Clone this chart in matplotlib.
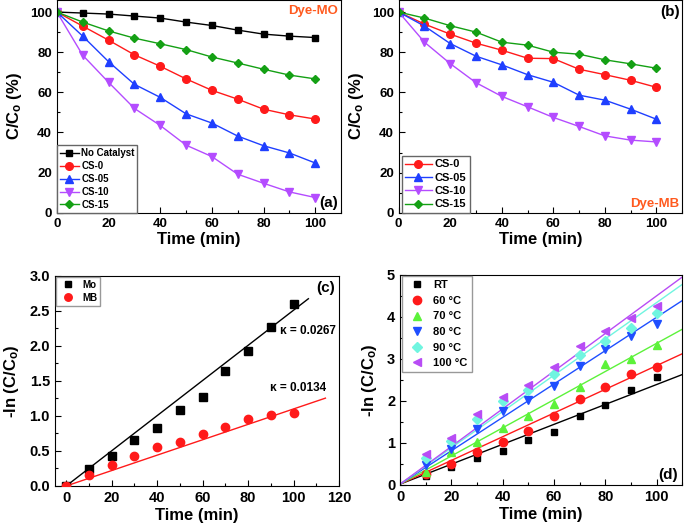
import numpy as np
import matplotlib
matplotlib.use('Agg')
import matplotlib.pyplot as plt
from matplotlib import font_manager as fm
from matplotlib.ticker import MultipleLocator

names = {f.name for f in fm.fontManager.ttflist}
fam = 'Liberation Sans Narrow' if 'Liberation Sans Narrow' in names else 'Liberation Sans'
plt.rcParams['font.family'] = [fam, 'DejaVu Sans']
plt.rcParams['font.weight'] = 'bold'
plt.rcParams['mathtext.fontset'] = 'custom'
plt.rcParams['mathtext.rm'] = fam + ':bold'
plt.rcParams['mathtext.bf'] = fam + ':bold'
plt.rcParams['mathtext.default'] = 'bf'

# time axis (min)
t = [0, 10, 20, 30, 40, 50, 60, 70, 80, 90, 100]
t10 = t[1:]

# (a) Dye-MO, C/Co (%)
mo_none = [100, 99.5, 99, 98, 97, 95, 93.3, 91, 89, 88, 87.3]
mo_cs0 = [100, 93, 86, 78.7, 73, 66.7, 61, 56.6, 51.6, 48.8, 46.7]
mo_cs05 = [100, 88, 75.3, 64, 57.5, 49.3, 44.7, 38.2, 33.4, 29.8, 24.8]
mo_cs10 = [100, 78.5, 65, 52, 43.5, 33.7, 28, 19.2, 14.7, 10.4, 7.6]
mo_cs15 = [100, 95, 90.6, 87, 84.2, 81.3, 77.6, 74.6, 71.5, 68.6, 66.7]

# (b) Dye-MB, C/Co (%)
mb_cs0 = [100, 94, 89, 84.5, 81, 77, 76.8, 71.5, 68.8, 66, 62.5]
mb_cs05 = [100, 93, 84.3, 78, 73.7, 68.8, 65, 58.6, 56.1, 51.6, 46.6]
mb_cs10 = [100, 85, 74.3, 64.8, 58, 52.8, 47.5, 43, 38.3, 36.2, 35.3]
mb_cs15 = [100, 97, 93.2, 90, 85, 83.5, 80, 79, 76.2, 74.2, 72]

# (c) kinetics -ln(C/Co)
kin_mo = [0, 0.24, 0.43, 0.65, 0.83, 1.09, 1.27, 1.64, 1.92, 2.27, 2.6]
kin_mb = [0, 0.16, 0.30, 0.43, 0.55, 0.635, 0.74, 0.845, 0.955, 1.01, 1.045]
fit_mo = (0.0251, 106.5)   # slope, x end
fit_mb = (0.0110, 114.0)

# (d) temperature series, -ln(C/Co)
temp_labels = ['RT', '60 °C', '70 °C', '80 °C', '90 °C', '100 °C']
temp_data = [
    [0.22, 0.42, 0.63, 0.82, 1.08, 1.27, 1.64, 1.91, 2.26, 2.57],
    [0.25, 0.50, 0.79, 1.03, 1.29, 1.65, 2.04, 2.33, 2.63, 2.80],
    [0.30, 0.78, 1.03, 1.35, 1.65, 1.92, 2.34, 2.87, 3.00, 3.33],
    [0.48, 0.86, 1.32, 1.76, 2.01, 2.36, 2.84, 3.23, 3.54, 3.83],
    [0.63, 1.05, 1.57, 2.00, 2.26, 2.63, 3.09, 3.42, 3.74, 4.09],
    [0.73, 1.12, 1.68, 2.10, 2.38, 2.80, 3.30, 3.67, 3.97, 4.26],
]
temp_slopes = [0.0237, 0.0282, 0.0335, 0.0397, 0.0432, 0.0448]

c_blk, c_red, c_blu, c_vio, c_grn = 'black', '#ff1a1a', '#1f3fff', '#b44cff', '#14a014'
dye_col = '#ff5a1f'

fig = plt.figure(figsize=(6.85, 5.32), dpi=100)
ax_a = fig.add_axes([0.083, 0.600, 0.415, 0.400])
ax_b = fig.add_axes([0.582, 0.600, 0.414, 0.400])
ax_c = fig.add_axes([0.080, 0.0865, 0.415, 0.395])
ax_d = fig.add_axes([0.584, 0.0884, 0.412, 0.395])


def style(ax, fs):
    ax.tick_params(which='both', direction='in', top=False, right=False, labelsize=fs)
    ax.tick_params(which='major', length=4, width=0.8)
    ax.tick_params(which='minor', length=2, width=0.8)
    for s in ax.spines.values():
        s.set_linewidth(0.8)
    for lab in ax.get_xticklabels() + ax.get_yticklabels():
        lab.set_fontweight('bold')


# (a)
ax_a.plot(t, mo_none, '-s', color=c_blk, ms=5, lw=1, label='No Catalyst')
ax_a.plot(t, mo_cs0, '-o', color=c_red, ms=5.5, lw=1, label='CS-0')
ax_a.plot(t, mo_cs05, '-^', color=c_blu, ms=5.5, lw=1, label='CS-05')
ax_a.plot(t, mo_cs10, '-v', color=c_vio, ms=5.5, lw=1, label='CS-10')
ax_a.plot(t, mo_cs15, '-D', color=c_grn, ms=4.5, lw=1, label='CS-15')
ax_a.set_xlim(0, 110)
ax_a.set_ylim(0, 106)
ax_a.xaxis.set_major_locator(MultipleLocator(20))
ax_a.xaxis.set_minor_locator(MultipleLocator(10))
ax_a.yaxis.set_major_locator(MultipleLocator(20))
ax_a.yaxis.set_minor_locator(MultipleLocator(10))
ax_a.set_xlabel('Time (min)', fontsize=12, fontweight='bold', labelpad=2)
ax_a.set_ylabel(r'C/C$_\mathbf{o}$ (%)', fontsize=12, fontweight='bold', labelpad=4)
ax_a.legend(loc='lower left', fontsize=7, borderaxespad=0, handlelength=2.0,
            handletextpad=0.2, labelspacing=0.3, fancybox=False, edgecolor='0.4',
            framealpha=1, borderpad=0.3)
ax_a.text(0.99, 0.975, 'Dye-MO', transform=ax_a.transAxes, ha='right', va='top',
          color=dye_col, fontsize=9.5, fontweight='bold')
ax_a.text(0.99, 0.015, '(a)', transform=ax_a.transAxes, ha='right', va='bottom',
          fontsize=11, fontweight='bold')
style(ax_a, 9.5)

# (b)
ax_b.plot(t, mb_cs0, '-o', color=c_red, ms=5.5, lw=1, label='CS-0')
ax_b.plot(t, mb_cs05, '-^', color=c_blu, ms=5.5, lw=1, label='CS-05')
ax_b.plot(t, mb_cs10, '-v', color=c_vio, ms=5.5, lw=1, label='CS-10')
ax_b.plot(t, mb_cs15, '-D', color=c_grn, ms=4.5, lw=1, label='CS-15')
ax_b.set_xlim(0, 110)
ax_b.set_ylim(0, 106)
ax_b.xaxis.set_major_locator(MultipleLocator(20))
ax_b.xaxis.set_minor_locator(MultipleLocator(10))
ax_b.yaxis.set_major_locator(MultipleLocator(20))
ax_b.yaxis.set_minor_locator(MultipleLocator(10))
ax_b.set_xlabel('Time (min)', fontsize=12, fontweight='bold', labelpad=2)
ax_b.set_ylabel(r'C/C$_\mathbf{o}$ (%)', fontsize=12, fontweight='bold', labelpad=4)
ax_b.legend(loc='lower left', bbox_to_anchor=(0.01, 0.0), fontsize=8, borderaxespad=0,
            handlelength=2.4, handletextpad=0.3, labelspacing=0.3, fancybox=False,
            edgecolor='0.4', framealpha=1, borderpad=0.3)
ax_b.text(0.99, 0.975, '(b)', transform=ax_b.transAxes, ha='right', va='top',
          fontsize=11, fontweight='bold')
ax_b.text(0.99, 0.015, 'Dye-MB', transform=ax_b.transAxes, ha='right', va='bottom',
          color=dye_col, fontsize=9.5, fontweight='bold')
style(ax_b, 9.5)

# (c)
ax_c.plot(t, kin_mo, 's', color=c_blk, ms=5.5, label='Mo', zorder=3)
ax_c.plot(t, kin_mb, 'o', color=c_red, ms=6, label='MB', zorder=3)
xm = np.array([0, fit_mo[1]])
ax_c.plot(xm, fit_mo[0] * xm, color=c_blk, lw=1)
xb = np.array([0, fit_mb[1]])
ax_c.plot(xb, fit_mb[0] * xb, color=c_red, lw=1)
ax_c.text(94, 2.21, 'κ = 0.0267', fontsize=8.5, fontweight='bold', ha='left', va='center')
ax_c.text(89.5, 1.40, 'κ = 0.0134', fontsize=8.5, fontweight='bold', ha='left', va='center')
ax_c.set_xlim(-5, 120)
ax_c.set_ylim(0, 3.0)
ax_c.xaxis.set_major_locator(MultipleLocator(20))
ax_c.xaxis.set_minor_locator(MultipleLocator(10))
ax_c.yaxis.set_major_locator(MultipleLocator(0.5))
ax_c.yaxis.set_minor_locator(MultipleLocator(0.25))
ax_c.yaxis.set_major_formatter(plt.FormatStrFormatter('%.1f'))
ax_c.set_xlabel('Time (min)', fontsize=12, fontweight='bold', labelpad=2)
ax_c.set_ylabel(r'-ln (C/C$_\mathbf{o}$)', fontsize=12, fontweight='bold', labelpad=6)
ax_c.legend(loc='upper left', fontsize=7, borderaxespad=0.1, handletextpad=0.4,
            labelspacing=0.3, fancybox=False, edgecolor='0.6', framealpha=1,
            borderpad=0.3, markerscale=0.9)
ax_c.text(0.985, 0.975, '(c)', transform=ax_c.transAxes, ha='right', va='top',
          fontsize=11, fontweight='bold')
style(ax_c, 10.5)

# (d)
d_cols = ['black', '#ff1a1a', '#5cf23a', '#1f4fff', '#70f5e0', '#b84cf5']
d_marks = ['s', 'o', '^', 'v', 'D', '<']
d_ms = [5, 6, 6, 6, 5, 6]
xl = np.array([0, 110])
for lab, ys, k, c, m, s in zip(temp_labels, temp_data, temp_slopes, d_cols, d_marks, d_ms):
    ax_d.plot(t10, ys, m, color=c, ms=s, label=lab, zorder=3)
    ax_d.plot(xl, 0.02 + k * xl, color=c, lw=1)
ax_d.set_xlim(0, 110)
ax_d.set_ylim(0, 5)
ax_d.xaxis.set_major_locator(MultipleLocator(20))
ax_d.xaxis.set_minor_locator(MultipleLocator(10))
ax_d.yaxis.set_major_locator(MultipleLocator(1))
ax_d.yaxis.set_minor_locator(MultipleLocator(0.5))
ax_d.set_xlabel('Time (min)', fontsize=12, fontweight='bold', labelpad=2)
ax_d.set_ylabel(r'-ln (C/C$_\mathbf{o}$)', fontsize=12, fontweight='bold', labelpad=6)
ax_d.legend(loc='upper left', fontsize=8, borderaxespad=0.15, handletextpad=0.5,
            labelspacing=0.5, fancybox=False, edgecolor='0.6', framealpha=1,
            borderpad=0.35)
ax_d.text(0.985, 0.015, '(d)', transform=ax_d.transAxes, ha='right', va='bottom',
          fontsize=11, fontweight='bold')
style(ax_d, 10.5)

fig.savefig('out.png', dpi=100)
